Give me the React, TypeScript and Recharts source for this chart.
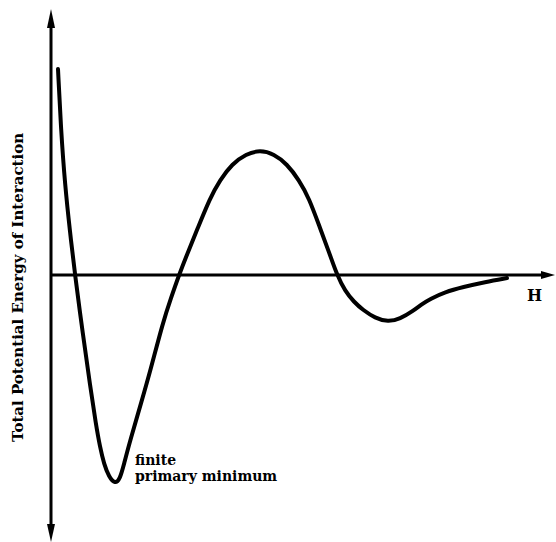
import React from 'react';
import { LineChart, Line, XAxis, YAxis, ReferenceLine, ReferenceDot } from 'recharts';

// Separation distance H (arbitrary units) and total potential energy (arbitrary units)
const distanceH = [
  0.7, 1.0, 1.4, 1.9, 2.4,
  3.2, 3.9, 4.5, 4.9, 5.3, 5.8, 6.4, 6.9, 7.3, 7.9, 9.1, 9.9, 11.2, 12.0, 12.8,
  13.7, 14.6, 15.9, 16.9, 18.1, 19.5, 20.9, 22.3, 23.6, 24.8, 25.8, 26.9, 27.8, 28.6,
  29.4, 30.3, 31.2, 32.4, 33.7, 34.9, 36.2, 37.1, 37.9, 39.4, 41.2, 43.4, 45.6,
];
const energy = [
  20.6, 14.5, 9.0, 4.3, 0,
  -6.0, -11.0, -15.0, -17.2, -18.9, -20.2, -20.9, -20.4, -18.9, -16.6, -12.5, -9.7, -4.7, -2.3, 0,
  2.3, 4.5, 7.7, 9.5, 11.1, 12.1, 12.5, 12.1, 11.1, 9.5, 7.7, 4.7, 2.3, 0,
  -1.6, -2.7, -3.5, -4.3, -4.7, -4.4, -3.6, -2.9, -2.4, -1.7, -1.2, -0.7, -0.3,
];

const xDomain = [0, 50.4];
const yDomain = [-26.5, 26.5];

const yLabel = 'Total Potential Energy of Interaction';
const xLabel = 'H';
const annotation = ['finite', 'primary minimum'];
const annotationX = 8.4;
const annotationY = [-19.0, -20.6];
const xLabelPos = { x: 47.6, y: -2.6 };

const data = distanceH.map((h, i) => ({ h, e: energy[i] }));

const FONT = '"DejaVu Serif", serif';

const VerticalArrow = (props: any) => {
  const { x1, y1, y2 } = props;
  const top = Math.min(y1, y2);
  const bottom = Math.max(y1, y2);
  return (
    <g>
      <line x1={x1} y1={top + 10} x2={x1} y2={bottom - 10} stroke="#000" strokeWidth={3} />
      <polygon points={`${x1},${top - 1} ${x1 - 4},${top + 18} ${x1 + 4},${top + 18}`} fill="#000" />
      <polygon points={`${x1},${bottom + 2} ${x1 - 4},${bottom - 16} ${x1 + 4},${bottom - 16}`} fill="#000" />
    </g>
  );
};

const HorizontalArrow = (props: any) => {
  const { x1, x2, y1 } = props;
  const left = Math.min(x1, x2);
  const right = Math.max(x1, x2);
  return (
    <g>
      <line x1={left} y1={y1} x2={right - 8} y2={y1} stroke="#000" strokeWidth={3} />
      <polygon points={`${right},${y1} ${right - 14},${y1 - 4} ${right - 14},${y1 + 4}`} fill="#000" />
    </g>
  );
};

const textShape = (txt: string, size: number) => (props: any) => (
  <text x={props.cx} y={props.cy} fontFamily={FONT} fontWeight="bold" fontSize={size} fill="#000">
    {txt}
  </text>
);

const YLabelContent = (props: any) => {
  const vb = props.viewBox || { x: 0, y: 10, width: 51, height: 530 };
  const cx = vb.x + 23;
  const cy = vb.y + vb.height / 2 + 12.5;
  return (
    <text
      x={cx}
      y={cy}
      transform={`rotate(-90, ${cx}, ${cy})`}
      textAnchor="middle"
      fontFamily={FONT}
      fontWeight="bold"
      fontSize={15}
      fill="#000"
    >
      {yLabel}
    </text>
  );
};

export default function App() {
  return (
    <div style={{ position: 'absolute', left: 0, top: 0, background: '#fff' }}>
      <LineChart width={556} height={542} data={data} margin={{ top: 10, right: 1, bottom: 2, left: 0 }}>
        <XAxis dataKey="h" type="number" domain={xDomain} hide />
        <YAxis
          type="number"
          domain={yDomain}
          width={51}
          tick={false}
          tickLine={false}
          axisLine={false}
          label={{ content: YLabelContent }}
        />
        <ReferenceLine x={xDomain[0]} shape={VerticalArrow} />
        <ReferenceLine y={0} shape={HorizontalArrow} />
        <Line
          type="basis"
          dataKey="e"
          stroke="#000"
          strokeWidth={4}
          dot={false}
          isAnimationActive={false}
          strokeLinecap="round"
          strokeLinejoin="round"
        />
        <ReferenceDot x={annotationX} y={annotationY[0]} shape={textShape(annotation[0], 14)} />
        <ReferenceDot x={annotationX} y={annotationY[1]} shape={textShape(annotation[1], 14)} />
        <ReferenceDot x={xLabelPos.x} y={xLabelPos.y} shape={textShape(xLabel, 16)} />
      </LineChart>
    </div>
  );
}
